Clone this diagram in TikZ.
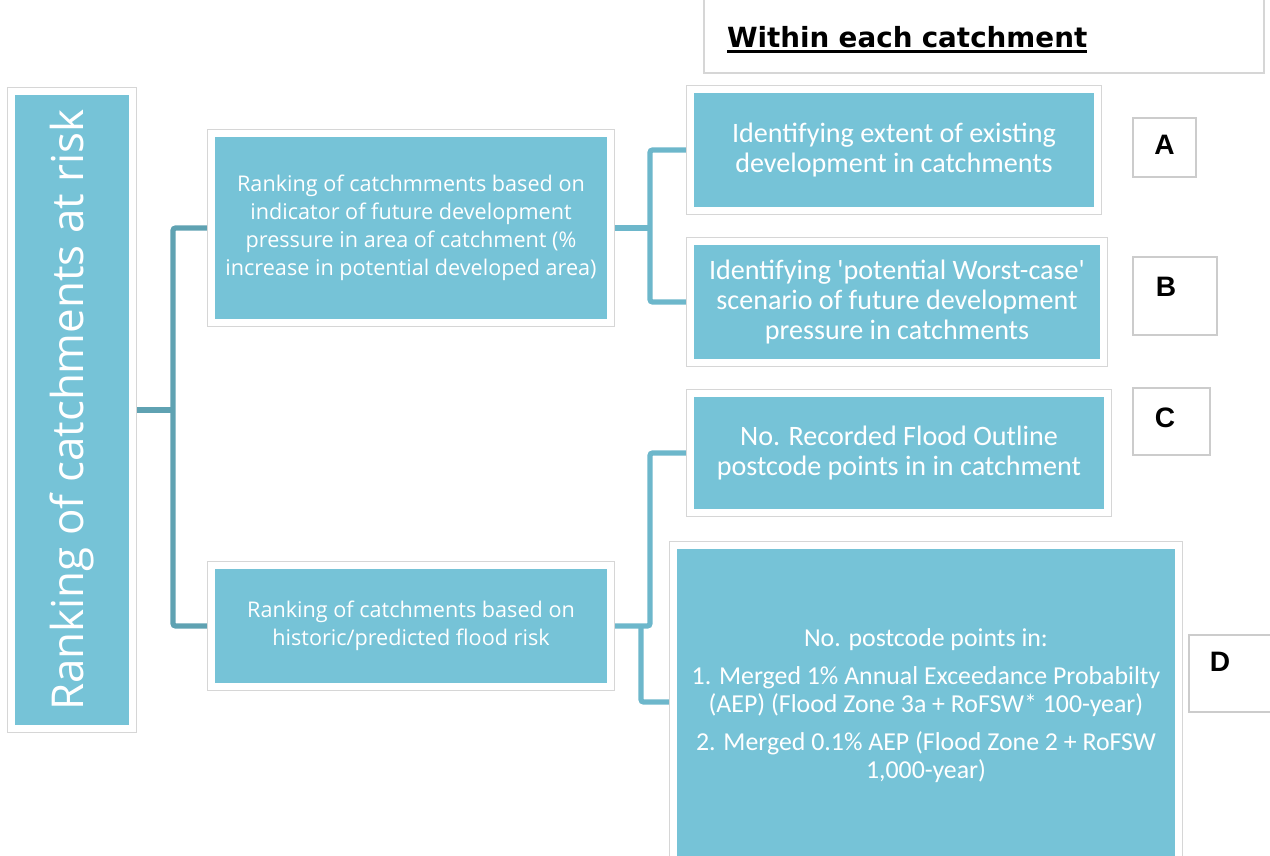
\documentclass[tikz,border=0pt]{standalone}
\usepackage{fontspec}
\setmainfont{Open Sans}
\newfontfamily\calfont{Carlito}
\newfontfamily\verfont{DejaVu Sans}
\newfontfamily\arfont{Liberation Sans}
\newcommand\headul[1]{\setbox0\hbox{#1}\rlap{\rule[-0.2em]{\wd0}{1.6pt}}\box0}
\usetikzlibrary{backgrounds}
\definecolor{tealfill}{HTML}{76C3D7}
\definecolor{trunkcol}{HTML}{5FA2B2}
\definecolor{branchcol}{HTML}{6DB7CB}
\definecolor{framegray}{HTML}{D6D6D6}

\tikzset{
  tealbox/.style={fill=tealfill, draw=white, line width=0.14cm,
    preaction={draw=framegray, line width=0.165cm},
    text=white, align=center, inner sep=0pt},
  leftbox/.style={tealbox, font=\fontsize{12.3}{15.9}\selectfont},
  rightbox/.style={tealbox, font=\calfont\fontsize{16}{17}\selectfont},
  tag/.style={draw=black!20, fill=white, line width=0.6pt},
  letter/.style={font=\arfont\bfseries\fontsize{16}{18}\selectfont},
  trunk/.style={draw=trunkcol, line width=3pt, rounded corners=1.5pt},
  branch/.style={draw=branchcol, line width=3pt, rounded corners=1.5pt},
}

\begin{document}
\begin{tikzpicture}
\useasboundingbox (0,0) rectangle (25.4,-17.12);

% heading
\node[draw=framegray, line width=0.6pt, minimum width=11.2cm, minimum height=1.60cm,
      text width=10.28cm, align=left, inner xsep=0.46cm, text height=19.9pt, text depth=3.2pt,
      font=\verfont\bfseries\fontsize{15.8}{18}\selectfont] (head) at (19.68,-0.66)
      {\headul{Within each catchment}};

% boxes
\node[tealbox, minimum width=2.42cm, minimum height=12.74cm,
      font=\fontsize{25}{28}\selectfont] (root) at (1.44,-8.20)
      {\rotatebox{90}{Ranking of catchments at risk}};
\node[leftbox, minimum width=7.98cm, minimum height=3.78cm] (press) at (8.22,-4.56)
      {Ranking of catchmments based on\\ indicator of future development\\
       pressure in area of catchment (\%\\ increase in potential developed area)};
\node[leftbox, minimum width=7.98cm, minimum height=2.42cm] (flood) at (8.22,-12.52)
      {Ranking of catchments based on\\ historic/predicted flood risk};
\node[rightbox, minimum width=8.14cm, minimum height=2.42cm] (exist) at (17.88,-3.00)
      {Identifying extent of existing\\ development in catchments};
\node[rightbox, minimum width=8.26cm, minimum height=2.42cm] (worst) at (17.94,-6.04)
      {Identifying \textquotesingle potential Worst-case\textquotesingle\\
       scenario of future development\\ pressure in catchments};
\node[rightbox, minimum width=8.34cm, minimum height=2.38cm] (rec) at (17.98,-9.06)
      {No. Recorded Flood Outline\\ postcode points in in catchment};
\node[rightbox, minimum width=10.10cm, minimum height=6.42cm,
      font=\calfont\fontsize{14.7}{15.9}\selectfont] (aep) at (18.52,-14.12)
      {No. postcode points in:\\[5.7pt]
       1. Merged 1\% Annual Exceedance Probabilty\\
       (AEP) (Flood Zone 3a + RoFSW* 100-year)\\[5.7pt]
       2. Merged 0.1\% AEP (Flood Zone 2 + RoFSW\\ 1,000-year)};

% tags
\node[tag, minimum width=1.26cm, minimum height=1.18cm] (tagA) at (23.29,-2.95) {};
\node[tag, minimum width=1.68cm, minimum height=1.56cm] (tagB) at (23.50,-5.92) {};
\node[tag, minimum width=1.54cm, minimum height=1.34cm] (tagC) at (23.43,-8.43) {};
\node[tag, minimum width=2.02cm, minimum height=1.54cm] (tagD) at (24.79,-13.47) {};
\node[letter] (ltrA) at (23.29,-2.90) {A};
\node[letter] (ltrB) at (23.32,-5.74) {B};
\node[letter] (ltrC) at (23.30,-8.36) {C};
\node[letter] (ltrD) at (24.40,-13.24) {D};

% connectors
\begin{scope}[on background layer]
  \coordinate (j0) at (3.46,-8.20);
  \coordinate (j1) at (13.00,-4.56);
  \coordinate (j2) at (13.00,-12.52);
  \coordinate (j3) at (12.82,-12.52);
  \draw[trunk] (root.east) -- (j0);
  \draw[trunk] (press.west) -| (j0) |- (flood.west);
  \draw[branch] (press.east) -- (j1);
  \draw[branch] (exist.west) -| (j1) |- (worst.west);
  \draw[branch] (flood.east) -- (j2) |- (rec.west);
  \draw[branch] (j3) |- ([yshift=0.08cm]aep.west);
\end{scope}
\end{tikzpicture}
\end{document}
